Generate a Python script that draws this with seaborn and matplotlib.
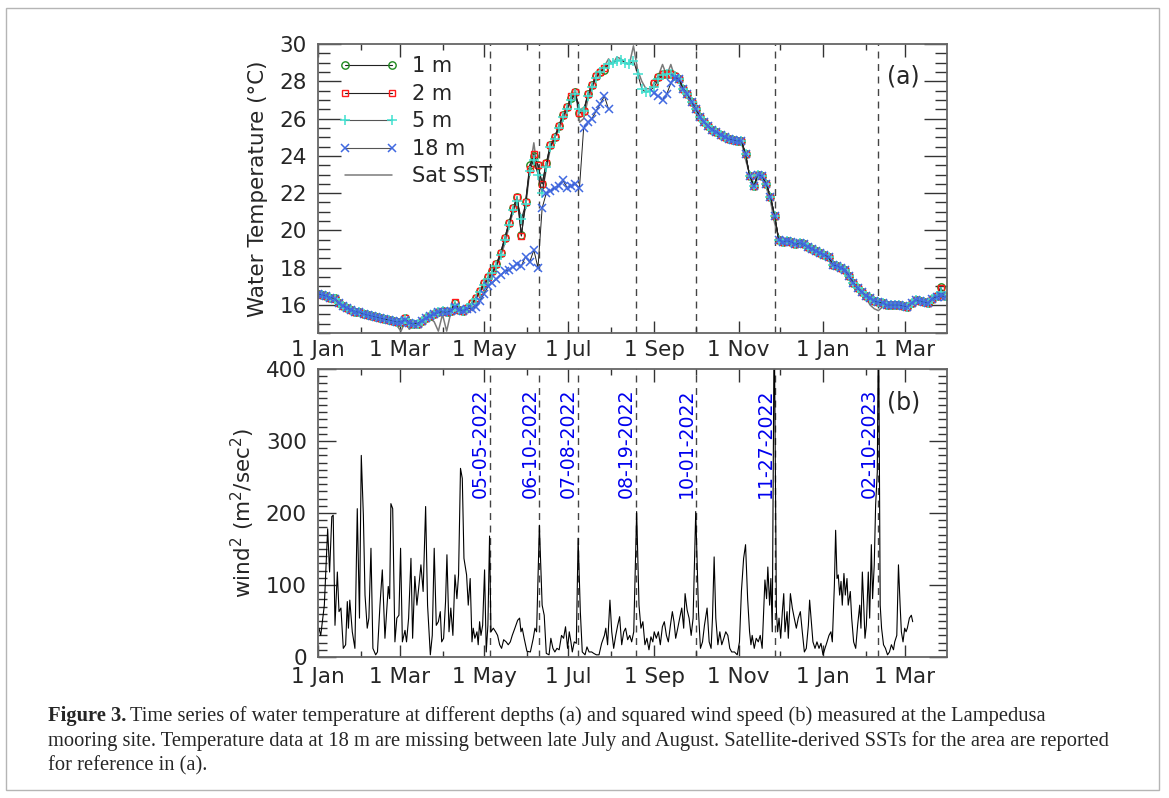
import numpy as np
import pandas as pd
import matplotlib
matplotlib.use("Agg")
import matplotlib.pyplot as plt
import matplotlib.dates as mdates
from matplotlib.lines import Line2D
from matplotlib.patches import Rectangle
from matplotlib.ticker import MultipleLocator
import seaborn as sns

START = pd.Timestamp("2022-01-01")
NA = np.nan

# ── Temperature (°C), one value every 3 days from 1 Jan 2022 ────────────────
TEMP_STEP = 3
t_1m = [
    16.6, 16.55, 16.5, 16.4, 16.4, 16.1, 15.95, 15.85, 15.75, 15.65,
    15.6, 15.5, 15.45, 15.4, 15.35, 15.3, 15.25, 15.2, 15.15, 15.1,
    15.1, 15.3, 15.05, 15.0, 15.0, 15.15, 15.3, 15.4, 15.5, 15.65,
    15.7, 15.6, 15.7, 16.1, 15.75, 15.7, 15.85, 16.1, 16.4, 16.75,
    17.2, 17.5, 17.8, 18.2, 18.8, 19.6, 20.4, 21.2, 21.8, 19.75,
    21.5, 23.5, 24.0, 23.5, 22.5, 23.6, 24.6, 25.0, 25.6, 26.2,
    26.6, 27.1, 27.4, 26.3, 26.4, 27.3, 27.8, 28.3, 28.5, 28.6,
    NA, NA, NA, NA, NA, NA, NA, NA, NA, NA,
    NA, 27.9, 28.25, 28.4, 28.4, 28.4, 28.3, 28.1, 27.6, 27.3,
    26.9, 26.5, 26.1, 25.8, 25.6, 25.4, 25.3, 25.1, 25.0, 24.9,
    24.85, 24.8, 24.8, 24.1, 22.9, 22.4, 23.0, 22.9, 22.5, 21.8,
    20.8, 19.5, 19.4, 19.45, 19.4, 19.25, 19.3, 19.25, 19.1, 19.0,
    18.9, 18.8, 18.7, 18.55, 18.15, 18.1, 18.0, 17.9, 17.55, 17.2,
    16.9, 16.7, 16.5, 16.4, 16.2, 16.15, 16.1, 16.0, 16.0, 16.0,
    16.0, 15.95, 15.9, 16.1, 16.25, 16.2, 16.15, 16.1, 16.35, 16.5,
    16.95, 16.5,
]
t_2m = [
    16.6, 16.55, 16.5, 16.4, 16.35, 16.1, 15.95, 15.85, 15.75, 15.65,
    15.6, 15.5, 15.45, 15.4, 15.35, 15.3, 15.25, 15.2, 15.15, 15.1,
    15.1, 15.3, 15.05, 15.0, 15.0, 15.15, 15.3, 15.4, 15.5, 15.65,
    15.7, 15.6, 15.7, 16.15, 15.75, 15.7, 15.85, 16.1, 16.4, 16.75,
    17.2, 17.5, 17.8, 18.2, 18.8, 19.6, 20.4, 21.2, 21.8, 19.7,
    21.5, 23.3, 24.1, 23.5, 22.5, 23.6, 24.6, 25.0, 25.6, 26.2,
    26.6, 27.2, 27.4, 26.3, 26.4, 27.3, 27.8, 28.3, 28.5, 28.7,
    NA, NA, NA, NA, NA, NA, NA, NA, NA, NA,
    NA, 27.9, 28.25, 28.4, 28.4, 28.4, 28.3, 28.1, 27.6, 27.3,
    26.9, 26.5, 26.1, 25.8, 25.6, 25.4, 25.3, 25.1, 25.0, 24.9,
    24.85, 24.8, 24.8, 24.1, 22.9, 22.4, 23.0, 22.9, 22.5, 21.8,
    20.8, 19.5, 19.4, 19.45, 19.4, 19.25, 19.3, 19.25, 19.1, 19.0,
    18.9, 18.8, 18.7, 18.55, 18.15, 18.1, 18.0, 17.9, 17.55, 17.2,
    16.9, 16.7, 16.5, 16.4, 16.2, 16.15, 16.1, 16.0, 16.0, 16.0,
    16.0, 15.95, 15.9, 16.1, 16.25, 16.2, 16.15, 16.1, 16.35, 16.5,
    16.9, 16.5,
]
t_5m = [
    16.6, 16.55, 16.5, 16.4, 16.35, 16.1, 15.95, 15.85, 15.75, 15.65,
    15.6, 15.5, 15.45, 15.4, 15.35, 15.3, 15.25, 15.2, 15.15, 15.1,
    15.1, 15.25, 15.05, 15.0, 15.0, 15.15, 15.3, 15.4, 15.5, 15.65,
    15.7, 15.6, 15.7, 16.0, 15.75, 15.7, 15.85, 16.05, 16.35, 16.7,
    17.1, 17.4, 17.7, 18.1, 18.7, 19.5, 20.3, 21.1, 21.6, 20.6,
    21.4, 23.2, 23.8, 23.0, 22.0, 23.4, 24.5, 24.9, 25.5, 26.1,
    26.5, 27.0, 27.3, 26.5, 26.4, 27.2, 27.7, 28.2, 28.5, 28.7,
    28.9, 29.0, 29.1, 29.15, 29.0, 28.9, 29.1, 28.4, 27.6, 27.4,
    27.5, 27.7, 28.1, 28.35, 28.4, 28.4, 28.3, 28.1, 27.6, 27.3,
    26.9, 26.5, 26.1, 25.8, 25.6, 25.4, 25.3, 25.1, 25.0, 24.9,
    24.85, 24.8, 24.8, 24.1, 22.9, 22.4, 23.0, 22.9, 22.5, 21.8,
    20.8, 19.5, 19.4, 19.45, 19.4, 19.25, 19.3, 19.25, 19.1, 19.0,
    18.9, 18.8, 18.7, 18.55, 18.15, 18.1, 18.0, 17.9, 17.55, 17.2,
    16.9, 16.7, 16.5, 16.4, 16.2, 16.15, 16.1, 16.0, 16.0, 16.0,
    16.0, 15.95, 15.9, 16.1, 16.25, 16.2, 16.15, 16.1, 16.35, 16.5,
    16.7, 16.5,
]
t_18m = [
    16.6, 16.55, 16.5, 16.4, 16.35, 16.1, 15.95, 15.85, 15.75, 15.65,
    15.6, 15.5, 15.45, 15.4, 15.35, 15.3, 15.25, 15.2, 15.15, 15.1,
    15.1, 15.2, 15.05, 15.0, 15.0, 15.15, 15.3, 15.4, 15.5, 15.6,
    15.65, 15.6, 15.7, 15.9, 15.75, 15.7, 15.8, 15.8, 15.9, 16.2,
    16.6, 17.0, 17.2, 17.4, 17.6, 17.8, 17.9, 18.05, 18.2, 18.1,
    18.6, 18.3, 18.95, 18.0, 21.2, 22.0, 22.1, 22.3, 22.4, 22.7,
    22.3, 22.4, 22.5, 22.3, 25.5, 25.8, 26.0, 26.4, 26.8, 27.2,
    26.5, NA, NA, NA, NA, NA, NA, NA, NA, NA,
    NA, 27.35, 27.2, 27.0, 27.3, 27.9, 28.2, 28.1, 27.6, 27.3,
    26.9, 26.5, 26.1, 25.8, 25.6, 25.4, 25.3, 25.1, 25.0, 24.9,
    24.85, 24.8, 24.8, 24.1, 22.9, 22.4, 23.0, 22.9, 22.5, 21.8,
    20.8, 19.5, 19.4, 19.45, 19.4, 19.25, 19.3, 19.25, 19.1, 19.0,
    18.9, 18.8, 18.7, 18.55, 18.15, 18.1, 18.0, 17.9, 17.55, 17.2,
    16.9, 16.7, 16.5, 16.4, 16.2, 16.15, 16.1, 16.0, 16.0, 16.0,
    16.0, 15.95, 15.9, 16.1, 16.25, 16.2, 16.15, 16.1, 16.35, 16.45,
    16.5, 16.45,
]
t_sst = [
    16.6, 16.5, 16.45, 16.3, 16.4, 16.0, 15.9, 15.8, 15.7, 15.55,
    15.5, 15.3, 15.45, 15.2, 15.35, 15.2, 15.25, 15.05, 15.15, 14.9,
    14.6, 15.1, 14.7, 14.9, 15.0, 15.1, 15.25, 15.3, 15.1, 14.6,
    15.5, 14.6, 15.6, 15.9, 15.7, 15.6, 15.8, 16.0, 16.3, 16.7,
    17.0, 17.4, 17.6, 18.1, 18.6, 19.3, 20.2, 21.0, 21.6, 20.3,
    21.2, 23.2, 24.7, 23.0, 22.0, 23.3, 24.4, 25.0, 25.4, 25.9,
    26.5, 26.9, 27.6, 25.8, 26.0, 27.0, 27.6, 28.2, 28.5, 28.8,
    29.2, 28.9, 29.3, 29.2, 29.0, 28.9, 29.9, 28.6, 28.0, 27.6,
    27.6, 27.9, 28.3, 28.9, 28.3, 28.9, 28.2, 28.0, 27.5, 27.1,
    26.8, 26.4, 26.0, 25.8, 25.5, 25.4, 25.2, 25.0, 24.9, 24.8,
    24.8, 24.7, 24.75, 23.8, 23.0, 22.2, 22.9, 22.8, 22.3, 21.6,
    20.4, 19.6, 19.3, 19.5, 19.2, 19.3, 19.2, 19.3, 19.0, 18.9,
    18.8, 18.7, 18.6, 18.4, 18.2, 17.9, 18.0, 17.8, 17.4, 17.1,
    16.8, 16.6, 16.4, 16.0, 15.8, 15.7, 15.9, 15.8, 16.0, 15.9,
    15.8, 16.0, 15.85, 16.1, 16.2, 16.15, 16.1, 16.0, 16.3, 16.4,
    16.6, 16.4,
]

# ── Squared wind speed (m²/s²): days since 1 Jan 2022, value ────────────────
wind_days = [
    0.7, 2, 4.6, 7, 8.4, 10, 11, 12.3, 14, 15.2, 16.6, 18.3, 20, 21.2, 22, 23,
    24.8, 26.7, 28.4, 30, 31.3, 32.8, 34, 35.6, 36.8, 38.3, 39.7, 41.7, 43,
    44.8, 46.5, 48.4, 49.6, 50.8, 51.8, 52.7, 54, 55.6, 57, 58.5, 59.7, 61,
    62.9, 64, 65.5, 67.2, 68.4, 70, 71.5, 73, 74.4, 76, 77.8, 79.2, 81.2, 82.6,
    84, 85.5, 87, 88.4, 89.4, 90.8, 92.2, 93.2, 94.7, 96, 97.5, 99, 100.4,
    101.6, 103, 104.3, 105.5, 107.4, 108.6, 110, 111.3, 112.2, 113.4, 114.9,
    115.8, 116.8, 117.8, 119, 120.4, 121.6, 122.8, 124, 125, 126.7, 128.4,
    129.8, 131.3, 132.7, 134.2, 136, 137.5, 139, 140.4, 142.3, 144.3, 145.7,
    146.7, 147.6, 149, 151, 153.5, 155.6, 156.8, 158, 160, 162, 163.5, 165,
    167, 168.3, 169.8, 171.2, 172.7, 174.3, 176, 177.5, 178.9, 180.4, 181.6,
    182.8, 183.8, 185.2, 186.7, 188, 189.6, 191, 193, 194.4, 195.9, 197.8,
    199.3, 201.2, 203.1, 205, 207, 208, 209.3, 211, 212.3, 213.7, 215.2,
    216.6, 218, 219.5, 221, 222.3, 223.8, 225.3, 226.7, 228.2, 230.3, 232,
    233.4, 234.8, 236.3, 237.7, 239.2, 240.6, 242, 243, 244.5, 246, 247.4,
    248.9, 250.3, 251.8, 253.2, 254.7, 256.1, 257.3, 258.5, 260, 261.4,
    262.9, 264.3, 265.3, 266.8, 268.2, 269.7, 271.1, 273, 275, 276.4, 277.9,
    279.3, 281.2, 282.7, 284.1, 285.1, 286.3, 287.5, 289, 290.4, 291.8,
    293.3, 294.7, 296.2, 297.6, 299, 301, 303, 304.6, 306, 307.6, 309, 310.5,
    311.9, 312.9, 313.8, 315.3, 316.7, 318.2, 319.6, 321, 323, 324.2, 325.1,
    326.4, 327.3, 328.3, 329.7, 331.3, 332.2, 333.2, 334.4, 335.6, 336.6,
    337.5, 339, 339.9, 341.4, 342.8, 344.2, 345.7, 347.1, 348.6, 350, 351.5,
    352.9, 354.4, 355.3, 356.3, 357.7, 359.2, 360.6, 362.1, 363.5, 365,
    366.4, 367.9, 369.3, 370.7, 371.7, 373.2, 374.1, 375.1, 376, 377, 378,
    378.9, 380.1, 381.1, 382.3, 383.2, 384.7, 385.7, 387.1, 388.6, 390,
    391.5, 392.4, 393.4, 394.4, 395.3, 396.3, 397.7, 398.7, 399.9, 400.8,
    402, 403, 404.2, 405.1, 406.3, 407.3, 408.7, 410.1, 411.6, 413, 414.4,
    415.9, 416.8, 418.3, 419.5, 420.7, 421.6, 422.8, 424, 425, 425.9, 427.4,
    428.8, 429.8,
]
wind_vals = [
    40, 30, 72, 178, 118, 195, 197, 44, 118, 63, 68, 12, 17, 77, 40, 79,
    35, 12, 206, 54, 280, 197, 86, 40, 54, 151, 12, 3, 7,
    72, 121, 26, 63, 98, 81, 213, 206, 21, 54, 58, 151, 21,
    37, 21, 54, 137, 26, 112, 72, 100, 128, 91, 209, 72, 3, 30,
    151, 44, 49, 63, 21, 26, 77, 142, 35, 68, 30, 114, 81,
    114, 262, 248, 137, 114, 72, 109, 21, 40, 26, 35,
    17, 49, 30, 44, 121, 7, 44, 168, 35, 40, 35,
    30, 17, 12, 24, 21, 17, 21, 30, 40, 51, 54,
    35, 40, 26, 8, 7, 26, 40, 35, 183, 72, 58, 5,
    3, 26, 12, 7, 12, 10, 30, 26, 42, 12, 35,
    21, 7, 21, 19, 165, 63, 7, 3, 14, 7, 7,
    5, 3, 3, 19, 30, 40, 17, 79, 35, 12, 30,
    44, 56, 17, 35, 40, 24, 30, 21, 35, 202, 72,
    40, 49, 17, 26, 10, 28, 21, 35, 26, 35, 17,
    42, 49, 30, 21, 44, 63, 49, 26, 40, 54,
    68, 40, 88, 65, 54, 30, 54, 202, 63, 12, 21,
    44, 68, 21, 12, 54, 139, 54, 17, 35, 17,
    26, 35, 30, 12, 7, 7, 3, 21, 91, 137, 156, 81,
    35, 17, 30, 12, 26, 21, 30, 12, 107, 81, 125,
    72, 109, 35, 480, 63, 35, 54, 26, 63, 88,
    35, 63, 26, 88, 68, 54, 40, 54, 63, 35, 7,
    12, 44, 79, 54, 21, 12, 21, 12, 19, 3,
    12, 21, 30, 35, 21, 100, 176, 109, 114, 86, 105,
    72, 116, 86, 109, 72, 91, 54, 21, 12, 44,
    72, 40, 118, 72, 26, 44, 118, 54, 156, 81,
    128, 211, 257, 480, 72, 40, 17, 12, 3, 7, 17,
    10, 21, 30, 128, 72, 35, 21, 40, 35, 40, 54,
    58, 49,
]

# ── Events marked with dashed lines ─────────────────────────────────────────
event_dates = ["2022-05-05", "2022-06-10", "2022-07-08", "2022-08-19",
               "2022-10-01", "2022-11-27", "2023-02-10"]
event_labels = ["05-05-2022", "06-10-2022", "07-08-2022", "08-19-2022",
                "10-01-2022", "11-27-2022", "02-10-2023"]

X_START = pd.Timestamp("2022-01-01")
X_END = pd.Timestamp("2023-03-31 12:00")

LINE_C = "#222222"
C_1M, C_2M, C_5M, C_18M, C_SST = "#1f8a1f", "#ff1a1a", "#40e0d0", "#4169e1", "#7a7a7a"

# ── Style ───────────────────────────────────────────────────────────────────
sns.set_theme(style="ticks")
plt.rcParams["font.family"] = ["DejaVu Sans"]
plt.rcParams["axes.facecolor"] = "white"

fig = plt.figure(figsize=(11.69, 7.98), dpi=100)
ax_a = fig.add_axes([0.272, 0.5827, 0.538, 0.3622])
ax_b = fig.add_axes([0.272, 0.1767, 0.538, 0.3609])

temp_dates = START + pd.to_timedelta(np.arange(len(t_1m)) * TEMP_STEP, unit="D")

MK_O = dict(marker="o", markersize=5.3, markerfacecolor="none",
            markeredgecolor=C_1M, markeredgewidth=1.0)
MK_S = dict(marker="s", markersize=5.0, markerfacecolor="none",
            markeredgecolor=C_2M, markeredgewidth=1.0)
MK_P = dict(marker="+", markersize=6.5, markeredgecolor=C_5M, markeredgewidth=1.1)
MK_X = dict(marker="x", markersize=5.5, markeredgecolor=C_18M, markeredgewidth=1.1)


def draw_temp(ax, values, line_color, lw, **marker_kws):
    v = np.asarray(values, dtype=float)
    df = pd.DataFrame({"date": temp_dates, "temp": v, "seg": np.cumsum(np.isnan(v))})
    sns.lineplot(data=df, x="date", y="temp", units="seg", estimator=None,
                 ax=ax, color=line_color, lw=lw, **marker_kws)


draw_temp(ax_a, t_sst, C_SST, 1.1)
draw_temp(ax_a, t_1m, LINE_C, 0.8, **MK_O)
draw_temp(ax_a, t_2m, LINE_C, 0.8, **MK_S)
draw_temp(ax_a, t_5m, LINE_C, 0.7, **MK_P)
draw_temp(ax_a, t_18m, LINE_C, 0.7, **MK_X)

wind_df = pd.DataFrame({
    "date": START + pd.to_timedelta(wind_days, unit="D"),
    "wind2": wind_vals,
})
sns.lineplot(data=wind_df, x="date", y="wind2", estimator=None, ax=ax_b,
             color="black", lw=0.8)

# ── Event lines and labels ──────────────────────────────────────────────────
for d, lab in zip(event_dates, event_labels):
    d = pd.Timestamp(d)
    for ax in (ax_a, ax_b):
        ax.axvline(d, color="#444444", lw=1.0, ls=(0, (5, 4)), zorder=0.5)
    ax_b.text(d, 373, lab, rotation=90, ha="right", va="top",
              color="#0000ee", fontsize=13.6)

# ── Axes formatting ─────────────────────────────────────────────────────────
for ax in (ax_a, ax_b):
    ax.set_xlim(X_START, X_END)
    ax.xaxis.set_major_locator(mdates.MonthLocator(bymonth=[1, 3, 5, 7, 9, 11]))
    ax.xaxis.set_minor_locator(mdates.MonthLocator())
    ax.xaxis.set_major_formatter(mdates.DateFormatter("%-d %b"))
    ax.set_xlabel("")
    for s in ax.spines.values():
        s.set_color("#666666")
        s.set_linewidth(1.3)
        s.set_visible(True)
    ax.tick_params(axis="both", which="both", direction="in", top=True,
                   right=True, color="#333333", width=1.0, labelsize=15.5)
    ax.tick_params(axis="x", which="major", length=9)
    ax.tick_params(axis="x", which="minor", length=4.5)
    ax.tick_params(axis="y", which="major", pad=8)

ax_a.tick_params(axis="x", which="major", pad=5)
ax_b.tick_params(axis="x", which="major", pad=7)

ax_a.set_ylim(14.5, 30)
ax_a.yaxis.set_major_locator(MultipleLocator(2))
ax_a.yaxis.set_minor_locator(MultipleLocator(0.5))
ax_a.tick_params(axis="y", which="major", length=16.5)
ax_a.tick_params(axis="y", which="minor", length=8.5)
ax_a.set_ylabel("Water Temperature (°C)", fontsize=15.5)
ax_a.yaxis.set_label_coords(-0.079, 0.5)

ax_b.set_ylim(0, 400)
ax_b.yaxis.set_major_locator(MultipleLocator(100))
ax_b.yaxis.set_minor_locator(MultipleLocator(10))
ax_b.tick_params(axis="y", which="major", length=13)
ax_b.tick_params(axis="y", which="minor", length=6.5)
ax_b.set_ylabel("wind$^2$ (m$^2$/sec$^2$)", fontsize=15.5)
ax_b.yaxis.set_label_coords(-0.097, 0.5)

ax_a.text(0.957, 0.887, "(a)", transform=ax_a.transAxes, ha="right",
          va="center", fontsize=17)
ax_b.text(0.957, 0.882, "(b)", transform=ax_b.transAxes, ha="right",
          va="center", fontsize=17)

# ── Legend ──────────────────────────────────────────────────────────────────
handles = [
    Line2D([], [], color=LINE_C, lw=0.8, label="1 m", **MK_O),
    Line2D([], [], color=LINE_C, lw=0.8, label="2 m", **MK_S),
    Line2D([], [], color="#555555", lw=0.8, label="5 m", **MK_P),
    Line2D([], [], color="#555555", lw=0.8, label="18 m", **MK_X),
    Line2D([], [], color=C_SST, lw=1.1, label="Sat SST"),
]
ax_a.legend(handles=handles, loc="upper left", bbox_to_anchor=(0.019, 0.986),
            borderaxespad=0, frameon=False, numpoints=2, handlelength=2.9,
            handletextpad=0.65, labelspacing=0.36, fontsize=15)

# ── Caption ─────────────────────────────────────────────────────────────────
CAP_FONT = ["Liberation Serif", "DejaVu Serif"]
CAP_SIZE = 14.8
cap_x = 48 / 1169
cap_lines_y = [1 - 716 / 798, 1 - 741 / 798, 1 - 766 / 798]
bold = fig.text(cap_x, cap_lines_y[0], "Figure 3.", family=CAP_FONT,
                fontweight="bold", fontsize=CAP_SIZE, va="center", ha="left")
fig.canvas.draw()
bb = bold.get_window_extent(renderer=fig.canvas.get_renderer())
fig.text((bb.x1 + 4) / fig.bbox.width, cap_lines_y[0],
         "Time series of water temperature at different depths (a) and squared "
         "wind speed (b) measured at the Lampedusa",
         family=CAP_FONT, fontsize=CAP_SIZE, va="center", ha="left")
fig.text(cap_x, cap_lines_y[1],
         "mooring site. Temperature data at 18 m are missing between late July "
         "and August. Satellite-derived SSTs for the area are reported",
         family=CAP_FONT, fontsize=CAP_SIZE, va="center", ha="left")
fig.text(cap_x, cap_lines_y[2], "for reference in (a).",
         family=CAP_FONT, fontsize=CAP_SIZE, va="center", ha="left")

fig.patches.append(Rectangle((6 / 1169, 8 / 798), 1153 / 1169, 782 / 798,
                             transform=fig.transFigure, fill=False,
                             edgecolor="#b5b5b5", lw=1.0))

fig.savefig("out.png", dpi=100, facecolor="white")
